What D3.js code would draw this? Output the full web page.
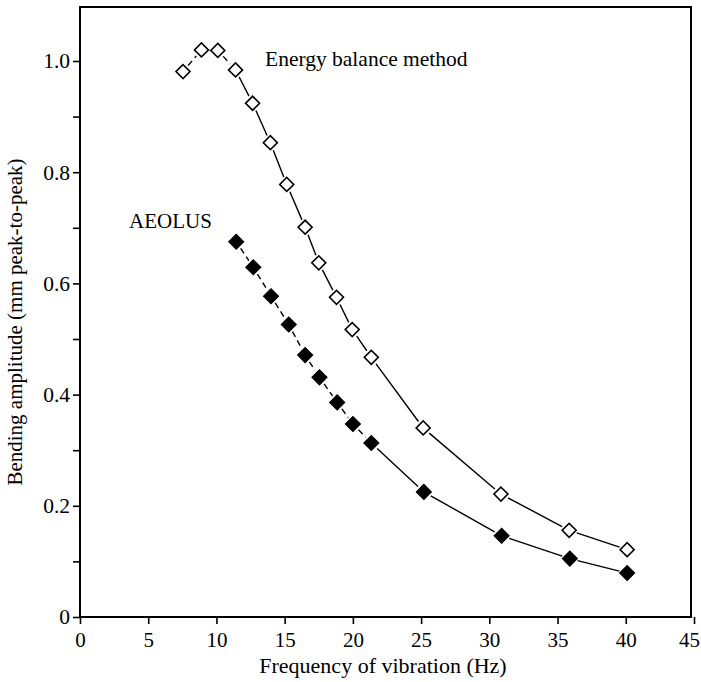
<!DOCTYPE html>
<html>
<head>
<meta charset="utf-8">
<script src="https://cdn.jsdelivr.net/npm/d3@7"></script>
<style>
html,body{margin:0;padding:0;background:#fff;}
svg{display:block;}
svg text{font-family:"Liberation Serif","Tinos","Times New Roman","DejaVu Serif",serif !important;fill:#000;}
</style>
</head>
<body>
<svg id="chart" width="701" height="682"></svg>
<script>
// Data
const energyFreq = [7.55, 8.9, 10.1, 11.4, 12.65, 13.95, 15.15, 16.5, 17.5, 18.8, 19.95, 21.35, 25.15, 30.85, 35.85, 40.1];
const energyAmp  = [0.981, 1.02, 1.019, 0.984, 0.924, 0.853, 0.778, 0.701, 0.637, 0.575, 0.517, 0.467, 0.340, 0.221, 0.156, 0.121];
const aeolusFreq = [11.45, 12.7, 14.0, 15.3, 16.5, 17.55, 18.85, 20.0, 21.35, 25.2, 30.9, 35.9, 40.1];
const aeolusAmp  = [0.675, 0.629, 0.577, 0.526, 0.471, 0.431, 0.386, 0.347, 0.313, 0.225, 0.146, 0.105, 0.079];
const xTicks = [0, 5, 10, 15, 20, 25, 30, 35, 40, 45];
const yTicks = [0, 0.2, 0.4, 0.6, 0.8, 1.0];
const yMinorTicks = [0.1, 0.3, 0.5, 0.7, 0.9];
const yTickLabels = ["0", "0.2", "0.4", "0.6", "0.8", "1.0"];

const FONT = '"Liberation Serif", Tinos, "Times New Roman", "DejaVu Serif", serif';
const svg = d3.select("#chart");
const pLeft = 80, pTop = 7, pRight = 691, pBottom = 617;

const x = d3.scaleLinear().domain([0, 45]).range([80, 694]);
const y = d3.scaleLinear().domain([0, 1.0]).range([617, 61]);

// frame
svg.append("rect").attr("x", pLeft).attr("y", pTop).attr("width", pRight - pLeft).attr("height", pBottom - pTop)
  .attr("fill", "none").attr("stroke", "#000").attr("stroke-width", 2);

// x axis
const xAxis = d3.axisBottom(x).tickValues(xTicks).tickSize(7).tickPadding(8).tickFormat(d3.format("d"));
const gx = svg.append("g").attr("transform", `translate(0,${pBottom})`).call(xAxis);
gx.attr("font-family", FONT);
gx.select(".domain").remove();
gx.selectAll(".tick line").attr("stroke", "#000").attr("stroke-width", 1.6);
gx.selectAll(".tick text").style("font-family", FONT).style("font-size", "21px").attr("dy", "0.72em")
  .attr("dx", d => d === 45 ? -5 : 0);

// y axis
const yAxis = d3.axisLeft(y).tickValues(yTicks).tickSize(7).tickPadding(3).tickFormat((d, i) => yTickLabels[i]);
const gy = svg.append("g").attr("transform", `translate(${pLeft},0)`).call(yAxis);
gy.attr("font-family", FONT);
gy.select(".domain").remove();
gy.selectAll(".tick line").attr("stroke", "#000").attr("stroke-width", 1.6);
gy.selectAll(".tick text").style("font-family", FONT).style("font-size", "21.5px");
const gyMinor = svg.append("g").attr("transform", `translate(${pLeft},0)`)
  .call(d3.axisLeft(y).tickValues(yMinorTicks).tickSize(7).tickFormat(""));
gyMinor.select(".domain").remove();
gyMinor.selectAll(".tick line").attr("stroke", "#000").attr("stroke-width", 1.6);

// axis titles
svg.append("text").attr("x", 383).attr("y", 673).attr("text-anchor", "middle")
  .style("font-family", FONT).style("font-size", "22px").text("Frequency of vibration (Hz)");
svg.append("text").attr("transform", "translate(22,322) rotate(-90)").attr("text-anchor", "middle")
  .style("font-family", FONT).style("font-size", "21px").text("Bending amplitude (mm peak-to-peak)");

// series helper: segments trimmed at markers
function drawSeries(fx, fy, dashUntil, filled) {
  const pts = fx.map((f, i) => [x(f), y(fy[i])]);
  const trim = 8;
  const g = svg.append("g");
  for (let i = 0; i < pts.length - 1; i++) {
    const [x1, y1] = pts[i], [x2, y2] = pts[i + 1];
    const dx = x2 - x1, dy = y2 - y1, L = Math.hypot(dx, dy);
    if (L <= 2 * trim) continue;
    const ux = dx / L, uy = dy / L;
    g.append("line")
      .attr("x1", x1 + ux * trim).attr("y1", y1 + uy * trim)
      .attr("x2", x2 - ux * trim).attr("y2", y2 - uy * trim)
      .attr("stroke", "#000").attr("stroke-width", 1.4)
      .attr("stroke-dasharray", i < dashUntil ? "6,4" : null);
  }
  const sym = d3.symbol().type(d3.symbolSquare).size(filled ? 115 : 98);
  g.selectAll("path.m").data(pts).enter().append("path").attr("class", "m")
    .attr("d", sym)
    .attr("transform", d => `translate(${d[0]},${d[1]}) rotate(45)`)
    .attr("fill", filled ? "#000" : "#fff")
    .attr("stroke", "#000").attr("stroke-width", filled ? 1 : 1.6);
}
drawSeries(energyFreq, energyAmp, 3, false);
drawSeries(aeolusFreq, aeolusAmp, 8, true);

// labels
svg.append("text").attr("x", 265).attr("y", 66).style("font-family", FONT).style("font-size", "21.5px").text("Energy balance method");
svg.append("text").attr("x", 129).attr("y", 228).style("font-family", FONT).style("font-size", "21px").text("AEOLUS");
</script>
</body>
</html>
